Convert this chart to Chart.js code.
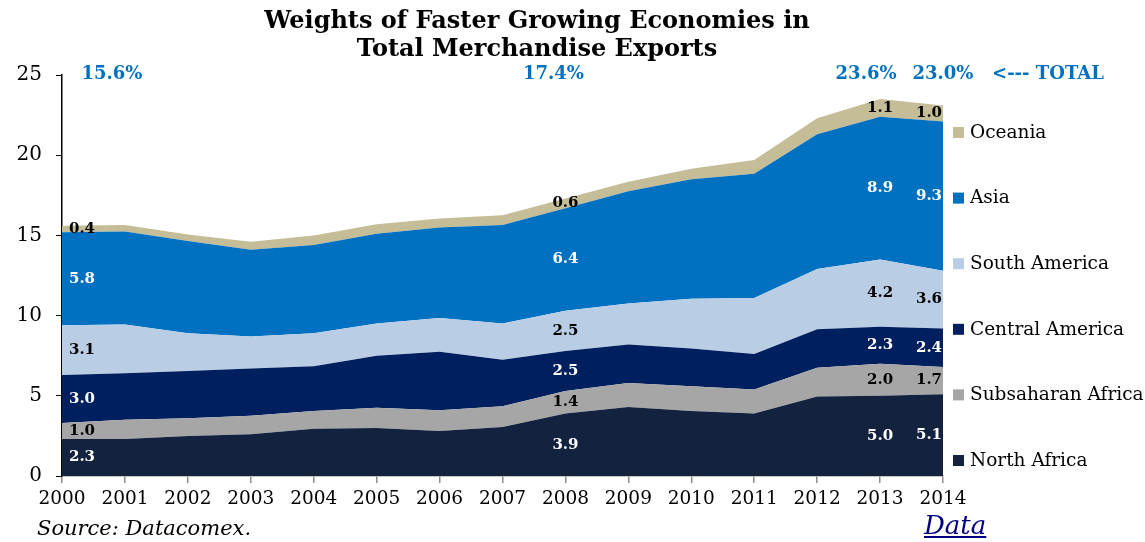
<!DOCTYPE html>
<html>
<head>
<meta charset="utf-8">
<title>Weights of Faster Growing Economies in Total Merchandise Exports</title>
<script src="https://cdn.jsdelivr.net/npm/chart.js@4.4.1/dist/chart.umd.min.js"></script>
<style>
  html, body { margin: 0; padding: 0; background: #fff; }
  #wrap { position: relative; width: 1145px; height: 542px; overflow: hidden; }
  #wrap canvas { position: absolute; left: 0; top: 0; }
  .title {
    position: absolute; left: 0; top: 6px; width: 1074px; text-align: center;
    font-family: "DejaVu Serif", serif; font-weight: bold; font-size: 24px; line-height: 28px; color: #000;
  }
  .source {
    position: absolute; left: 37px; top: 516px;
    font-family: "DejaVu Serif", serif; font-style: italic; font-size: 21px; color: #000;
  }
  .data-link {
    position: absolute; left: 924px; top: 510px;
    font-family: "DejaVu Serif", serif; font-style: italic; font-size: 26px; color: #000080;
  }
</style>
</head>
<body>
<div id="wrap">
  <canvas id="exportsChart" width="1145" height="542"></canvas>
  <div class="title">Weights of Faster Growing Economies in<br>Total Merchandise Exports</div>
  <div class="source">Source: Datacomex.</div>
  <a class="data-link" href="#">Data</a>
</div>
<script>
// -----------------------------
// Données (% des exportations totales)
// -----------------------------
const years = ['2000', '2001', '2002', '2003', '2004', '2005', '2006', '2007',
               '2008', '2009', '2010', '2011', '2012', '2013', '2014'];

const northAfrica      = [2.3, 2.3, 2.5, 2.6, 2.95, 3.0, 2.8, 3.05, 3.9, 4.3, 4.05, 3.9, 4.95, 5.0, 5.1];
const subsaharanAfrica = [1.0, 1.2, 1.1, 1.15, 1.1, 1.25, 1.3, 1.3, 1.4, 1.5, 1.55, 1.5, 1.8, 2.0, 1.7];
const centralAmerica   = [3.0, 2.9, 2.95, 2.95, 2.8, 3.25, 3.65, 2.9, 2.5, 2.4, 2.35, 2.2, 2.4, 2.3, 2.4];
const southAmerica     = [3.1, 3.05, 2.35, 2.0, 2.05, 2.0, 2.1, 2.25, 2.5, 2.55, 3.1, 3.5, 3.75, 4.2, 3.6];
const asia             = [5.8, 5.8, 5.75, 5.4, 5.5, 5.6, 5.65, 6.15, 6.4, 7.0, 7.45, 7.75, 8.4, 8.9, 9.3];
const oceania          = [0.4, 0.4, 0.4, 0.5, 0.6, 0.6, 0.55, 0.6, 0.6, 0.6, 0.65, 0.85, 1.0, 1.1, 1.0];

const seriesNames = ['North Africa', 'Subsaharan Africa', 'Central America', 'South America', 'Asia', 'Oceania'];
const yTicks = [0, 5, 10, 15, 20, 25];

// années où les valeurs sont affichées dans les aires
const labelYears = ['2000', '2008', '2013', '2014'];
// totaux affichés en haut
const totalYears = ['2000', '2008', '2013', '2014'];
const totalTexts = ['15.6%', '17.4%', '23.6%', '23.0%'];
const totalNote = '<--- TOTAL';

// -----------------------------
// Styles
// -----------------------------
const colors     = ['#13233F', '#A6A6A6', '#001F5F', '#B9CDE5', '#0070C0', '#C4BD97'];
const textColors = ['#fff', '#000', '#fff', '#000', '#fff', '#000'];
const labelOffsetX = { '2000': 20, '2008': 0, '2013': 0, '2014': -14 };
const totalOffsetX = { '2000': 50, '2008': -12, '2013': -14, '2014': 0 };
const serif = '"DejaVu Serif", serif';

// -----------------------------
// Plugin : étiquettes, totaux et légende
// -----------------------------
const annotationsPlugin = {
    id: 'annotations',
    afterDatasetsDraw(chart) {
        const ctx = chart.ctx;
        const area = chart.chartArea;
        ctx.save();
        ctx.textAlign = 'center';
        ctx.textBaseline = 'middle';

        // valeurs dans les aires
        ctx.font = 'bold 15px ' + serif;
        chart.data.datasets.forEach((ds, i) => {
            const meta = chart.getDatasetMeta(i);
            labelYears.forEach(year => {
                const idx = years.indexOf(year);
                const top = meta.data[idx].y;
                const bottom = i === 0 ? chart.scales.y.getPixelForValue(0)
                                       : chart.getDatasetMeta(i - 1).data[idx].y;
                ctx.fillStyle = textColors[i];
                ctx.fillText(ds.data[idx].toFixed(1), meta.data[idx].x + labelOffsetX[year], (top + bottom) / 2);
            });
        });

        // totaux
        ctx.font = 'bold 18px ' + serif;
        ctx.fillStyle = '#0070C0';
        totalYears.forEach((year, k) => {
            const x = chart.scales.x.getPixelForValue(years.indexOf(year)) + totalOffsetX[year];
            ctx.fillText(totalTexts[k], x, area.top - 1);
        });
        ctx.fillText(totalNote, 1048, area.top - 1);

        // légende (ordre inverse)
        ctx.textAlign = 'left';
        ctx.font = '18.5px ' + serif;
        const items = chart.data.datasets.slice().reverse();
        items.forEach((ds, k) => {
            const y = 133 + k * 65.6;
            ctx.fillStyle = ds.backgroundColor;
            ctx.fillRect(953, y - 6, 11, 11);
            ctx.fillStyle = '#000';
            ctx.fillText(ds.label, 970, y);
        });
        ctx.restore();
    }
};

const seriesData = [northAfrica, subsaharanAfrica, centralAmerica, southAmerica, asia, oceania];

new Chart(document.getElementById('exportsChart').getContext('2d'), {
    type: 'line',
    data: {
        labels: years,
        datasets: seriesData.map((values, i) => ({
            label: seriesNames[i],
            data: values,
            backgroundColor: colors[i],
            borderWidth: 0,
            pointRadius: 0,
            tension: 0,
            fill: i === 0 ? 'origin' : '-1'
        }))
    },
    options: {
        responsive: false,
        animation: false,
        layout: { padding: { left: 0, top: 75, right: 202, bottom: 34 } },
        plugins: {
            legend: { display: false },
            title: { display: false },
            tooltip: { enabled: false }
        },
        scales: {
            x: {
                grid: { drawOnChartArea: false, drawTicks: true, tickLength: 7, color: '#8C8C8C', lineWidth: 1.5 },
                border: { color: '#8C8C8C', width: 1.5 },
                ticks: { color: '#000', font: { family: serif, size: 18.5 }, maxRotation: 0, autoSkip: false, padding: 5 },
                afterFit(scale) { scale.height = 32; }
            },
            y: {
                stacked: true,
                min: 0,
                max: 25,
                afterBuildTicks(scale) { scale.ticks = yTicks.map(v => ({ value: v })); },
                grid: { drawOnChartArea: false, drawTicks: true, tickLength: 6, color: '#000' },
                border: { color: '#000', width: 1.5 },
                ticks: { color: '#000', font: { family: serif, size: 20 }, padding: 14 },
                afterFit(scale) { scale.width = 62; }
            }
        }
    },
    plugins: [annotationsPlugin]
});
</script>
</body>
</html>
